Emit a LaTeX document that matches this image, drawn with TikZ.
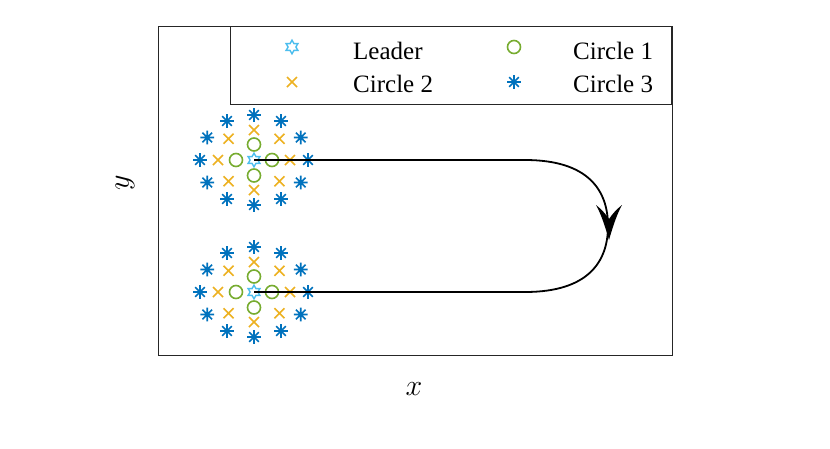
\RequirePackage{fix-cm}
\documentclass[tikz,border=0pt]{standalone}
\usepackage{fontspec}
\setmainfont{Liberation Serif}
\usetikzlibrary{calc}
\definecolor{leadc}{RGB}{77,190,238}
\definecolor{onec}{RGB}{119,172,48}
\definecolor{twoc}{RGB}{237,177,32}
\definecolor{threec}{RGB}{0,114,189}
\definecolor{axc}{RGB}{38,38,38}
\tikzset{
  hexa/.pic={\draw[leadc, line width=1.4pt, line join=miter]
    (90:6.8) -- (120:3.9) -- (150:6.8) -- (180:3.9) -- (210:6.8) -- (240:3.9) -- (270:6.8) -- (300:3.9) -- (330:6.8) -- (0:3.9) -- (30:6.8) -- (60:3.9) -- cycle;},
  ring/.pic={\draw[onec, line width=1.6pt] (0,0) circle (6.5);},
  cross/.pic={\draw[twoc, line width=1.6pt] (-5,-5) -- (5,5) (-5,5) -- (5,-5);},
  aster/.pic={\draw[threec, line width=1.6pt] (-6.8,0) -- (6.8,0) (0,-6.8) -- (0,6.8) (-4.8,-4.8) -- (4.8,4.8) (-4.8,4.8) -- (4.8,-4.8);},
  frame/.style={draw=axc, line width=1.4pt},
  legtext/.style={anchor=base west, inner sep=0pt, font=\fontsize{25}{30}\selectfont},
  axlabel/.style={inner sep=0pt, font=\fontsize{30}{36}\selectfont},
  trail/.style={draw=black, line width=1.8pt}
}
\begin{document}
\begin{tikzpicture}[x=1pt,y=-1pt]
\useasboundingbox[fill=white] (0,0) rectangle (830,448);
\node[frame, minimum width=514pt, minimum height=329pt, anchor=north west, inner sep=0pt] (axes) at (158,26) {};
\node[frame, fill=white, minimum width=441pt, minimum height=78pt, anchor=north east, inner sep=0pt] (legend) at (672,26) {};
% legend
\pic at (292,47) {hexa};
\pic at (514,47) {ring};
\pic at (292,82) {cross};
\pic at (514,82) {aster};
\node[legtext] (lLeader) at (353,59) {Leader};
\node[legtext] (lC1) at (573,59) {Circle 1};
\node[legtext] (lC2) at (353,92) {Circle 2};
\node[legtext] (lC3) at (573,92) {Circle 3};
% labels
\node[axlabel] (xl) at (414,389) {$x$};
\node[axlabel, rotate=90] (yl) at (125,183) {$y$};
% clusters
\coordinate (tc) at (254,160);
\coordinate (bc) at (254,292);
\foreach \c in {tc,bc}{
  \foreach \a in {0,30,...,330} \pic at ([shift={(\a:54 and 45)}]\c) {aster};
  \foreach \a in {0,45,...,315} \pic at ([shift={(\a:36 and 30)}]\c) {cross};
  \foreach \a in {0,90,180,270} \pic at ([shift={(\a:18 and 15.5)}]\c) {ring};
  \pic at (\c) {hexa};
}
% trajectory
\draw[trail] (tc) -- (525,160) .. controls (588,160) and (608,190) .. (608,226)
  .. controls (608,262) and (588,292) .. (525,292) -- (bc);
\coordinate (tip) at (609,240);
\fill[black] (tip) .. controls (605,226) and (601,214) .. (596,205)
  .. controls (601,209) and (605,213) .. (609,219)
  .. controls (613,213) and (617,209) .. (622,205)
  .. controls (617,214) and (613,226) .. (tip) -- cycle;
\end{tikzpicture}
\end{document}
